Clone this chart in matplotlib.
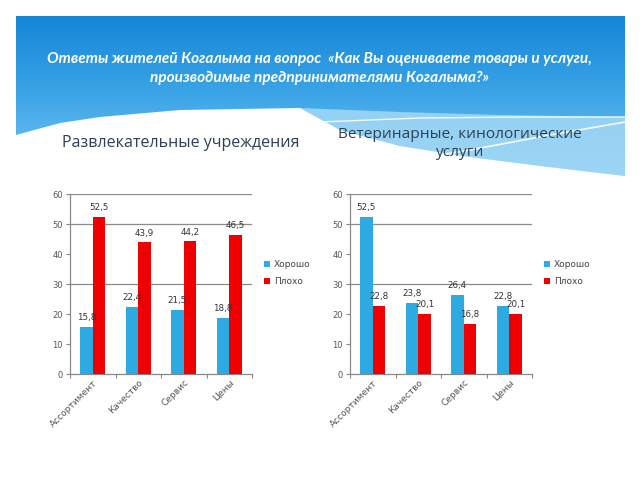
import numpy as np
import matplotlib
matplotlib.use("Agg")
import matplotlib.pyplot as plt
from matplotlib.patches import Polygon
from matplotlib.colors import LinearSegmentedColormap

categories = ["Ассортимент", "Качество", "Сервис", "Цены"]
series_names = ["Хорошо", "Плохо"]
left_good = [15.8, 22.4, 21.5, 18.8]
left_bad = [52.5, 43.9, 44.2, 46.5]
right_good = [52.5, 23.8, 26.4, 22.8]
right_bad = [22.8, 20.1, 16.8, 20.1]
yticks = [0, 10, 20, 30, 40, 50, 60]

title = "Ответы жителей Когалыма на вопрос  «Как Вы оцениваете товары и услуги,\nпроизводимые предпринимателями Когалыма?»"
sub_left = "Развлекательные учреждения"
sub_right = "Ветеринарные, кинологические\nуслуги"

BLUE = "#2eaae2"
RED = "#ee0000"

W, H = 640, 480
fig = plt.figure(figsize=(6.4, 4.8), dpi=100)
fig.patch.set_facecolor("white")

# background overlay in pixel coordinates
bg = fig.add_axes([0, 0, 1, 1], zorder=0)
bg.set_xlim(0, W)
bg.set_ylim(H, 0)
bg.axis("off")
grad = np.linspace(0, 1, 200).reshape(-1, 1)
cmap = LinearSegmentedColormap.from_list("g", ["#1486d6", "#3ea6e8", "#7ccaf3"])
bg.imshow(grad, extent=[16, 625, 180, 16], cmap=cmap, aspect="auto", zorder=0)
# light blue band on right
top_x = [300, 400, 500, 625]
top_y = [108, 112, 115, 117]
wx = [16, 60, 100, 180, 300, 340, 400, 470, 540, 625]
wy = [135, 123, 117, 110, 108, 130, 146, 157, 166, 176]
band = list(zip(top_x, top_y)) + list(zip(wx[::-1], wy[::-1]))[:6]
bg.add_patch(Polygon(band, closed=True, facecolor="#a3d8f5", edgecolor="none", alpha=0.85, zorder=1))
# white wave
verts = list(zip(wx, wy)) + [(625, 200), (16, 200)]
bg.add_patch(Polygon(verts, closed=True, facecolor="white", edgecolor="none", zorder=1.5))
bg.plot([320, 420, 520, 625], [122, 118, 117, 117], color="white", lw=1.0, alpha=0.9, zorder=2)
bg.plot([390, 470, 550, 625], [163, 150, 135, 122], color="white", lw=1.2, alpha=0.9, zorder=2)

fig.text(319 / W, 1 - 68.5 / H, title, ha="center", va="center", color="white",
         fontsize=11.1, fontweight="bold", style="italic", family=["Lato", "DejaVu Sans"],
         linespacing=1.45, zorder=5)
fig.text(181 / W, 1 - 143 / H, sub_left, ha="center", va="center", color="#2f3f55",
         fontsize=11.5, family=["Open Sans", "DejaVu Sans"], zorder=5)
fig.text(460 / W, 1 - 143.5 / H, sub_right, ha="center", va="center", color="#2f3f55",
         fontsize=11.1, family=["Open Sans", "DejaVu Sans"], linespacing=1.2, zorder=5)


def draw(x0, good, bad):
    x1 = x0 + 182
    ax = fig.add_axes([x0 / W, 1 - 374 / H, (x1 - x0) / W, 180 / H], zorder=3)
    ax.patch.set_alpha(0)
    x = np.arange(len(categories))
    w = 0.277
    b1 = ax.bar(x - w / 2, good, w, color=BLUE, label=series_names[0], zorder=3)
    b2 = ax.bar(x + w / 2, bad, w, color=RED, label=series_names[1], zorder=3)
    for bars, vals in ((b1, good), (b2, bad)):
        for r, v in zip(bars, vals):
            ax.text(r.get_x() + r.get_width() / 2, v + 1.5, f"{v:.1f}".replace(".", ","),
                    ha="center", va="bottom", fontsize=6.3, color="#333333", zorder=4)
    ax.set_xlim(-0.5, 3.5)
    ax.set_ylim(0, 60)
    ax.set_yticks(yticks)
    ax.set_yticklabels([str(t) for t in yticks], fontsize=6, color="#555555")
    for g in (30, 50, 60):
        ax.axhline(g, color="#8a8a8a", lw=0.9, zorder=1)
    ax.set_xticks([-0.5, 0.5, 1.5, 2.5, 3.5], minor=False)
    ax.set_xticklabels([])
    ax.set_xticks(x, minor=True)
    ax.set_xticklabels(categories, minor=True, rotation=45, ha="right",
                       rotation_mode="anchor", fontsize=6.5, color="#555555")
    ax.tick_params(axis="x", which="minor", length=0, pad=3)
    ax.tick_params(axis="x", which="major", length=3, color="#888888")
    ax.tick_params(axis="y", length=3, color="#888888", pad=2)
    for s in ("top", "right"):
        ax.spines[s].set_visible(False)
    for s in ("left", "bottom"):
        ax.spines[s].set_color("#888888")
        ax.spines[s].set_linewidth(0.9)
    leg = ax.legend(loc="center left", bbox_to_anchor=(1.02, 0.56), frameon=False,
                    fontsize=6.5, handlelength=0.7, handleheight=0.7, handletextpad=0.4,
                    labelspacing=0.9)
    for t in leg.get_texts():
        t.set_color("#444444")
    return ax


draw(70, left_good, left_bad)
draw(350, right_good, right_bad)

fig.savefig("out.png", dpi=100)
